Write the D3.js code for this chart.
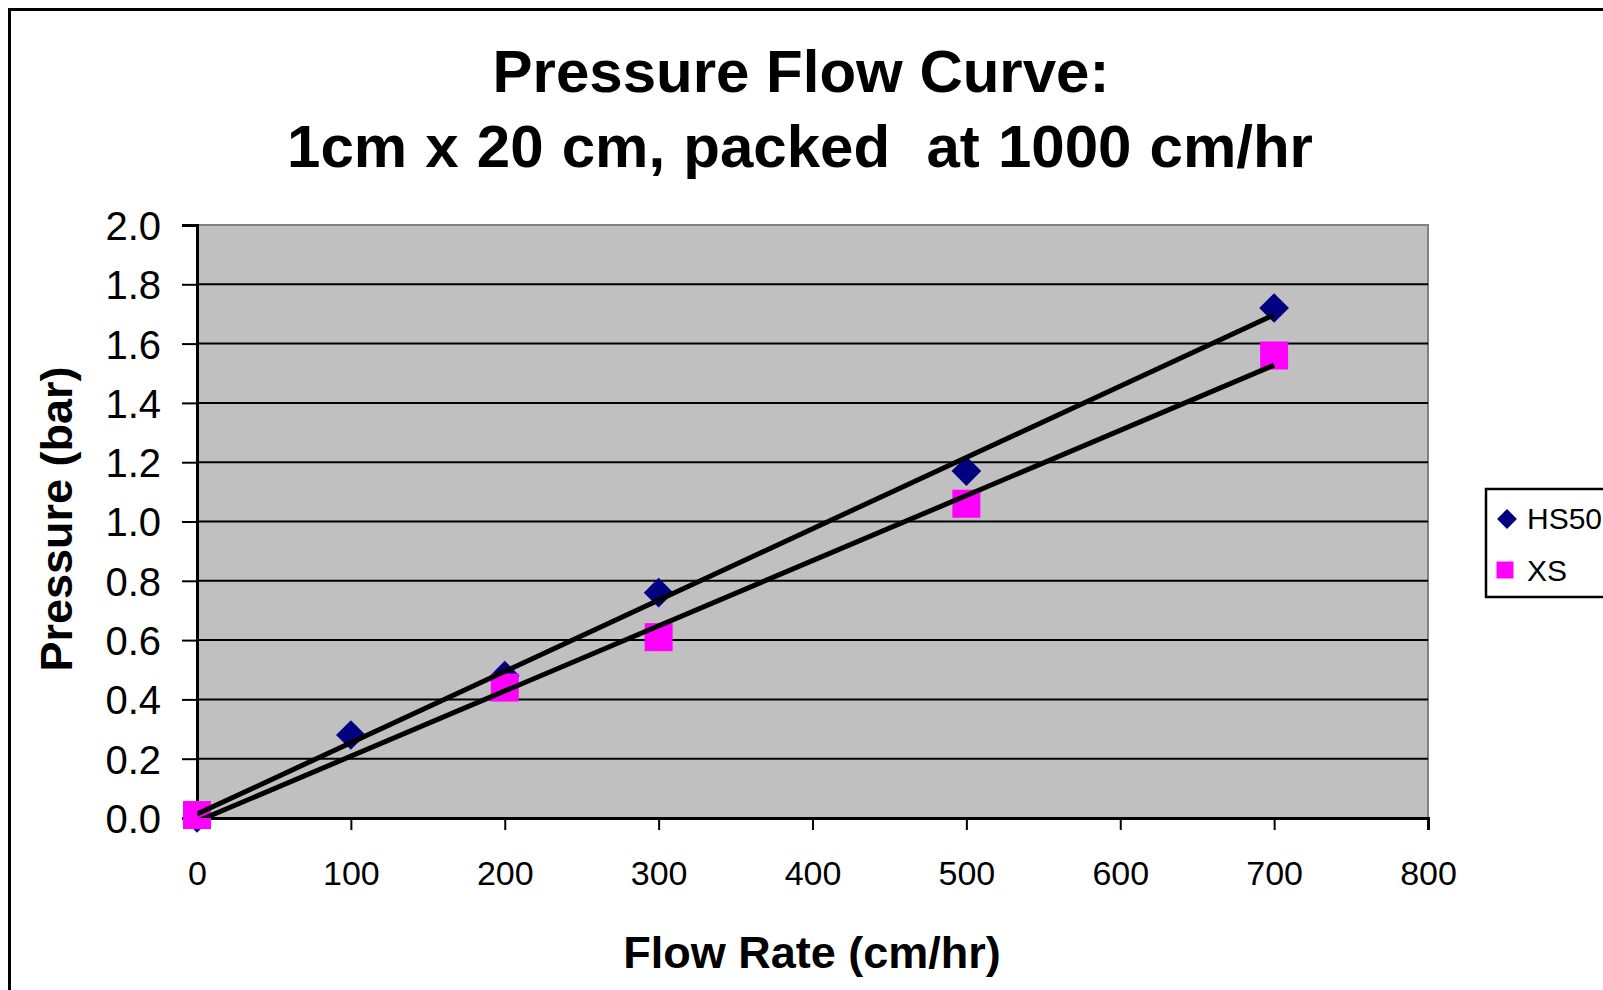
<!DOCTYPE html>
<html>
<head>
<meta charset="utf-8">
<script src="https://cdn.jsdelivr.net/npm/d3@7"></script>
<style>
  html, body { margin: 0; padding: 0; background: #ffffff; }
  svg { display: block; }
  text { font-family: "Liberation Sans", Arial, sans-serif; fill: #000; }
</style>
</head>
<body>
<svg id="chart" width="1603" height="990"></svg>
<script>
// ---- Data ----
const titleLines = ["Pressure Flow Curve:", "1cm x 20 cm, packed  at 1000 cm/hr"];
const xAxisTitle = "Flow Rate (cm/hr)";
const yAxisTitle = "Pressure (bar)";
const seriesNames = ["HS50", "XS"];
const hs50Flow = [0, 100, 200, 300, 500, 700];
const hs50Pressure = [0.00, 0.28, 0.48, 0.76, 1.17, 1.72];
const xsFlow = [0, 200, 300, 500, 700];
const xsPressure = [0.01, 0.44, 0.61, 1.06, 1.56];
const xTicks = [0, 100, 200, 300, 400, 500, 600, 700, 800];
const yTicks = [0.0, 0.2, 0.4, 0.6, 0.8, 1.0, 1.2, 1.4, 1.6, 1.8, 2.0];

// ---- Layout ----
const W = 1603, H = 990;
const plot = { left: 197, right: 1428, top: 225, bottom: 818 };
const svg = d3.select("#chart");

const x = d3.scaleLinear().domain([0, 800]).range([plot.left, plot.right]);
const y = d3.scaleLinear().domain([0, 2]).range([plot.bottom, plot.top]);

// outer chart border (extends past the picture on right/bottom)
svg.append("rect").attr("x", 9.5).attr("y", 9.5).attr("width", W + 20).attr("height", H + 20)
  .attr("fill", "#fff").attr("stroke", "#000").attr("stroke-width", 3);

// title
svg.append("text").attr("x", 801).attr("y", 92).attr("text-anchor", "middle")
  .attr("font-size", 60).attr("font-weight", "bold").text(titleLines[0]);
svg.append("text").attr("x", 800).attr("y", 167).attr("text-anchor", "middle")
  .attr("font-size", 60).attr("font-weight", "bold").attr("word-spacing", 1.5)
  .style("white-space", "pre").text(titleLines[1]);

// plot background
svg.append("rect").attr("x", plot.left).attr("y", plot.top)
  .attr("width", plot.right - plot.left).attr("height", plot.bottom - plot.top)
  .attr("fill", "#C0C0C0").attr("stroke", "#808080").attr("stroke-width", 2);

// gridlines
svg.append("g").selectAll("line").data(yTicks.filter(v => v > 0 && v < 2)).join("line")
  .attr("x1", plot.left).attr("x2", plot.right)
  .attr("y1", d => y(d)).attr("y2", d => y(d))
  .attr("stroke", "#000").attr("stroke-width", 2);

// axes
const yAxis = d3.axisLeft(y).tickValues(yTicks).tickFormat(d3.format(".1f"))
  .tickSize(15).tickPadding(21);
const gy = svg.append("g").attr("transform", `translate(${plot.left},0)`).call(yAxis);
gy.select(".domain").attr("stroke", "#000").attr("stroke-width", 3);
gy.selectAll(".tick line").attr("stroke", "#000").attr("stroke-width", 2);
gy.selectAll(".tick text").attr("font-size", 40).attr("font-family", "Liberation Sans, Arial, sans-serif")
  .attr("dy", "0.36em").attr("fill", "#000");

const xAxis = d3.axisBottom(x).tickValues(xTicks).tickFormat(d3.format("d"))
  .tickSize(12).tickPadding(31);
const gx = svg.append("g").attr("transform", `translate(0,${plot.bottom})`).call(xAxis);
gx.select(".domain").attr("stroke", "#000").attr("stroke-width", 3);
gx.selectAll(".tick line").attr("stroke", "#000").attr("stroke-width", 2);
gx.selectAll(".tick text").attr("font-size", 34).attr("font-family", "Liberation Sans, Arial, sans-serif")
  .attr("fill", "#000");

// axis titles
svg.append("text").attr("x", 812).attr("y", 968).attr("text-anchor", "middle")
  .attr("font-size", 45).attr("font-weight", "bold").text(xAxisTitle);
svg.append("text").attr("transform", "translate(72,519) rotate(-90)").attr("text-anchor", "middle")
  .attr("font-size", 45).attr("font-weight", "bold").text(yAxisTitle);

// markers
const diamond = d3.symbol().type(d3.symbolSquare).size(21 * 21);
const hsPts = hs50Flow.map((f, i) => [f, hs50Pressure[i]]);
const xsPts = xsFlow.map((f, i) => [f, xsPressure[i]]);

svg.append("g").selectAll("path").data(hsPts).join("path")
  .attr("d", diamond)
  .attr("transform", d => `translate(${x(d[0])},${y(d[1])}) rotate(45)`)
  .attr("fill", "#000080");

svg.append("g").selectAll("rect").data(xsPts).join("rect")
  .attr("x", d => x(d[0]) - 14).attr("y", d => y(d[1]) - 14)
  .attr("width", 28).attr("height", 28).attr("fill", "#FF00FF");

// linear trendlines (least squares from the data)
function fit(pts) {
  const mx = d3.mean(pts, d => d[0]), my = d3.mean(pts, d => d[1]);
  const sxy = d3.sum(pts, d => (d[0] - mx) * (d[1] - my));
  const sxx = d3.sum(pts, d => (d[0] - mx) ** 2);
  const m = sxy / sxx;
  return { m, b: my - m * mx };
}
svg.append("clipPath").attr("id", "plotclip").append("rect")
  .attr("x", plot.left).attr("y", plot.top)
  .attr("width", plot.right - plot.left).attr("height", plot.bottom - plot.top);
const trend = svg.append("g").attr("clip-path", "url(#plotclip)");
[hsPts, xsPts].forEach(pts => {
  const f = fit(pts);
  const x0 = d3.min(pts, d => d[0]), x1 = d3.max(pts, d => d[0]);
  trend.append("line")
    .attr("x1", x(x0)).attr("y1", y(f.m * x0 + f.b))
    .attr("x2", x(x1)).attr("y2", y(f.m * x1 + f.b))
    .attr("stroke", "#000").attr("stroke-width", 5);
});

// legend
svg.append("rect").attr("x", 1486).attr("y", 489).attr("width", 200).attr("height", 108)
  .attr("fill", "#fff").attr("stroke", "#000").attr("stroke-width", 2.5);
svg.append("path").attr("d", d3.symbol().type(d3.symbolSquare).size(14 * 14))
  .attr("transform", "translate(1507,519) rotate(45)").attr("fill", "#000080");
svg.append("rect").attr("x", 1496.5).attr("y", 561.5).attr("width", 17).attr("height", 17)
  .attr("fill", "#FF00FF");
svg.append("text").attr("x", 1527).attr("y", 529).attr("font-size", 30).text(seriesNames[0]);
svg.append("text").attr("x", 1527).attr("y", 581).attr("font-size", 30).text(seriesNames[1]);
</script>
</body>
</html>
